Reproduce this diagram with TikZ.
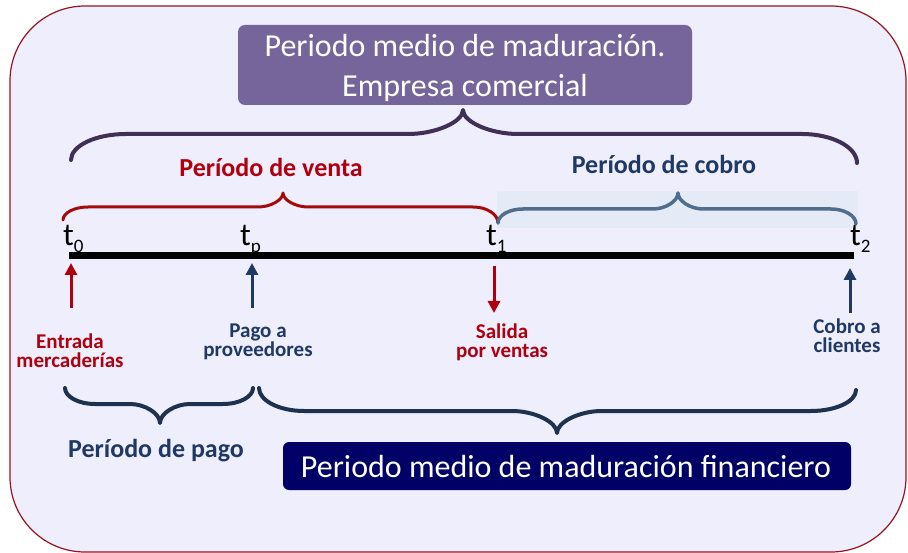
\documentclass[tikz,border=0pt]{standalone}
\usepackage{fontspec}
\setmainfont{Carlito}
\usetikzlibrary{arrows.meta}
\definecolor{framefill}{RGB}{238,238,252}
\definecolor{framedraw}{RGB}{150,20,30}
\definecolor{purplebox}{RGB}{118,101,154}
\definecolor{topbrace}{RGB}{64,48,85}
\definecolor{darkred}{RGB}{175,0,15}
\definecolor{redbrace}{RGB}{165,10,10}
\definecolor{darkblue}{RGB}{31,56,100}
\definecolor{bluebrace}{RGB}{80,110,140}
\definecolor{lightrect}{RGB}{228,235,247}
\definecolor{botbrace}{RGB}{30,50,80}
\definecolor{navybox}{RGB}{0,0,102}
\begin{document}
\begin{tikzpicture}[x=1pt,y=-1pt,
  bracepath/.style n args={8}{insert path={
    (#1,#2) .. controls (#1,{#6+0.45*(#2-#6)}) and ({#1+0.45*#8},#6) .. ({#1+#8},#6)
    -- ({#5-#8},#6) .. controls ({#5-0.5*#8},#6) and (#5,{#6+0.5*(#7-#6)}) .. (#5,#7)
    .. controls (#5,{#6+0.5*(#7-#6)}) and ({#5+0.5*#8},#6) .. ({#5+#8},#6)
    -- ({#3-#8},#6) .. controls ({#3-0.45*#8},#6) and (#3,{#6+0.45*(#4-#6)}) .. (#3,#4)}},
  bracestyle/.style={line width=#1, line cap=round, line join=round},
  bigtext/.style={font=\fontsize{32}{40}\selectfont, text=white, align=center},
  period/.style={font=\fontsize{26}{28}\selectfont\bfseries, anchor=base},
  evlabel/.style={font=\fontsize{21}{19}\selectfont\bfseries, anchor=base, align=center},
  tlabel/.style={font=\fontsize{32}{32}\selectfont, anchor=base west, inner sep=0pt},
  evarrow/.style={line width=3pt, -{Triangle[length=12pt,width=12pt]}},
]
\useasboundingbox (0,0) rectangle (908,553);
% frame
\draw[fill=framefill, draw=framedraw, line width=1.2pt, rounded corners=75pt] (10,6) rectangle (906,552);

% title box
\node[fill=purplebox, rounded corners=7pt, minimum width=454pt, minimum height=80pt, inner sep=0pt] (title) at (465,65) {};
\node[bigtext, anchor=base] (titletext) at (465,97) {Periodo medio de maduración.\\Empresa comercial};

% top brace
\draw[draw=topbrace, bracestyle=4pt, bracepath={71}{160}{857}{163}{463}{134}{110}{55}];

% period labels
\node[period, text=darkred] (venta) at (271,177) {Período de venta};
\node[period, text=darkblue] (cobro) at (664,174) {Período de cobro};

% light rect behind blue brace
\fill[lightrect] (497,191) rectangle (858,228);

% red & blue braces
\draw[draw=redbrace, bracestyle=3pt, bracepath={63}{220}{498}{223}{283}{207}{193}{25}];
\draw[draw=bluebrace, bracestyle=3.5pt, bracepath={498}{223}{856}{224}{678}{209}{193}{25}];

% timeline
\coordinate (lineA) at (69,255.5);
\coordinate (lineB) at (854,255.5);
\draw[line width=7pt] (lineA) -- (lineB);

% t labels
\node[tlabel] (t0) at (63,246) {t\raisebox{-7pt}{\fontsize{19}{19}\selectfont 0}};
\node[tlabel] (tp) at (240,246) {t\raisebox{-7pt}{\fontsize{19}{19}\selectfont p}};
\node[tlabel] (t1) at (486,246) {t\raisebox{-7pt}{\fontsize{19}{19}\selectfont 1}};
\node[tlabel] (t2) at (850,246) {t\raisebox{-7pt}{\fontsize{19}{19}\selectfont 2}};

% arrows
\coordinate (a0s) at (71,308);  \coordinate (a0e) at (71,263);
\coordinate (aps) at (252,308); \coordinate (ape) at (252,263);
\coordinate (a1s) at (494,266); \coordinate (a1e) at (494,313);
\coordinate (a2s) at (850,313); \coordinate (a2e) at (850,268);
\draw[evarrow, draw=darkred, fill=darkred] (a0s) -- (a0e);
\draw[evarrow, draw=darkblue, fill=darkblue] (aps) -- (ape);
\draw[evarrow, draw=darkred, fill=darkred] (a1s) -- (a1e);
\draw[evarrow, draw=darkblue, fill=darkblue] (a2s) -- (a2e);

% event labels (anchor base = last line baseline)
\node[evlabel, text=darkred] (entrada) at (70,367) {Entrada\\mercaderías};
\node[evlabel, text=darkblue] (pago) at (258,357) {Pago a\\proveedores};
\node[evlabel, text=darkred] (salida) at (502,358) {Salida\\por ventas};
\node[evlabel, text=darkblue] (cobroc) at (847,353) {Cobro a\\clientes};

% bottom braces
\draw[draw=botbrace, bracestyle=4pt, bracepath={65}{388}{253}{388}{160}{404}{423}{30}];
\draw[draw=botbrace, bracestyle=4pt, bracepath={259}{388}{856}{390}{557}{411}{433}{45}];

\node[period, text=darkblue] (pagop) at (156,457) {Período de pago};

% navy box
\node[fill=navybox, rounded corners=6pt, minimum width=568pt, minimum height=48pt, inner sep=0pt] (fin) at (567,466) {};
\node[bigtext, anchor=base] (fintext) at (566,477) {Periodo medio de maduración financiero};
\end{tikzpicture}
\end{document}
